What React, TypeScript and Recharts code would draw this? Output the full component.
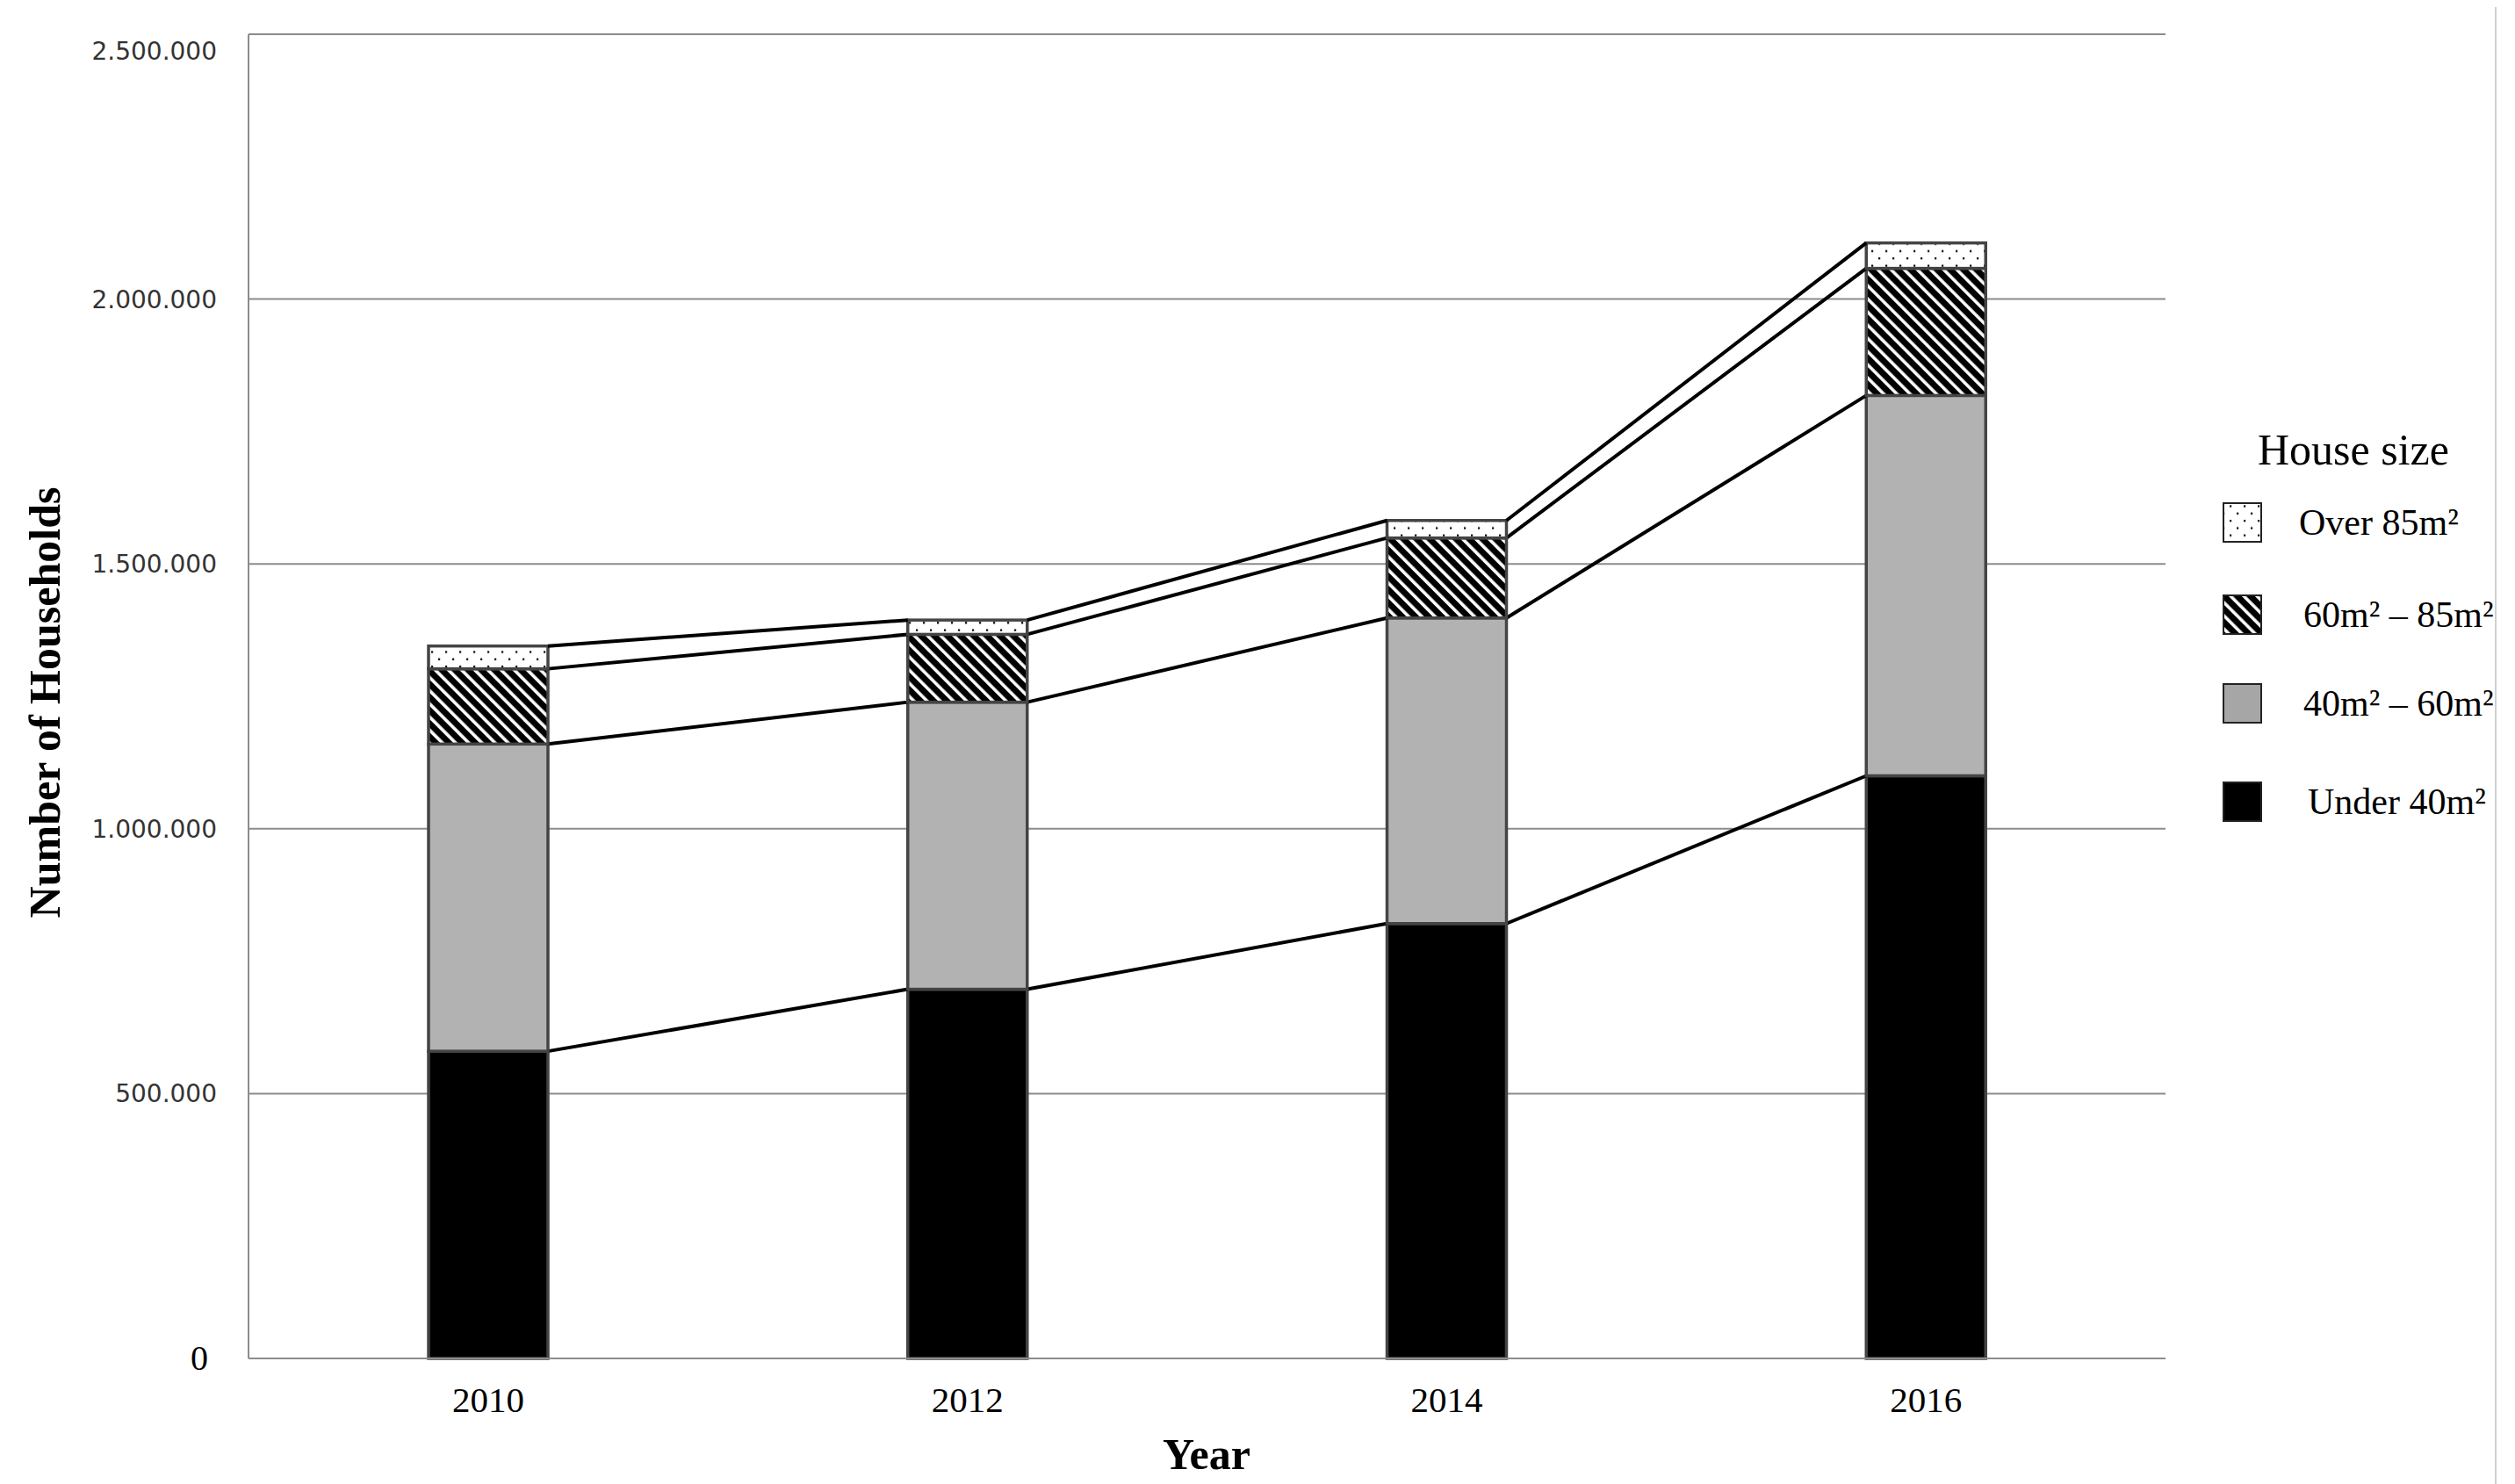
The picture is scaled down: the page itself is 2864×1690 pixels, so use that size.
import React from 'react';
import { BarChart, Bar, XAxis, YAxis, CartesianGrid, Customized } from 'recharts';

const years = ['2010', '2012', '2014', '2016'];
const under40 = [580000, 697000, 821000, 1100000];
const m40to60 = [580000, 542000, 577000, 718000];
const m60to85 = [142000, 128000, 151000, 240000];
const over85 = [43000, 27000, 33000, 48000];
const yTicks = [0, 500000, 1000000, 1500000, 2000000, 2500000];

const seriesKeys = ['under40', 'm40to60', 'm60to85', 'over85'];
const seriesNames: Record<string, string> = {
  under40: 'Under 40m²',
  m40to60: '40m² – 60m²',
  m60to85: '60m² – 85m²',
  over85: 'Over 85m²',
};
const legendOrder = ['over85', 'm60to85', 'm40to60', 'under40'];

const data = years.map((year, i) => ({
  year,
  under40: under40[i],
  m40to60: m40to60[i],
  m60to85: m60to85[i],
  over85: over85[i],
}));

const SERIF = "'Liberation Serif', 'Times New Roman', serif";
const SANS = "'DejaVu Sans', sans-serif";
const GRID = '#8c8c8c';
const BAR_STROKE = '#444444';

const fills: Record<string, string> = {
  under40: '#000000',
  m40to60: '#b2b2b2',
  m60to85: 'url(#pStripes)',
  over85: 'url(#pDots)',
};
const legendFills: Record<string, string> = {
  under40: '#000000',
  m40to60: '#a6a6a6',
  m60to85: 'url(#pStripes)',
  over85: 'url(#pDots)',
};

const edges: Record<string, { x: number; y: number }[]> = {};

const makeShape = (key: string) => (props: any) => {
  const { x, y, width, height, payload } = props;
  const i = years.indexOf(payload?.year);
  if (!edges[key]) edges[key] = [];
  const prev = i > 0 ? edges[key][i - 1] : undefined;
  edges[key][i] = { x: x + width, y };
  return (
    <g>
      <rect x={x} y={y} width={width} height={height} fill={fills[key]} stroke={BAR_STROKE} strokeWidth={3.5} />
      {prev && <line x1={prev.x} y1={prev.y} x2={x} y2={y} stroke="#000" strokeWidth={4} />}
    </g>
  );
};

const fmt = (v: number) => v.toString().replace(/\B(?=(\d{3})+(?!\d))/g, '.');

const YTick = (props: any) => {
  const { x, y, payload } = props;
  const v = payload.value;
  if (v === 0) {
    return (
      <text x={x - 10} y={y + 13} textAnchor="end" fontFamily={SERIF} fontSize={40} fill="#000">
        0
      </text>
    );
  }
  const dy = v === yTicks[yTicks.length - 1] ? 29 : 10;
  return (
    <text x={x} y={y + dy} textAnchor="end" fontFamily={SANS} fontSize={28} fill="#333">
      {fmt(v)}
    </text>
  );
};

const XTick = (props: any) => {
  const { x, y, payload } = props;
  return (
    <text x={x} y={y + 61} textAnchor="middle" fontFamily={SERIF} fontSize={41} fill="#000">
      {payload.value}
    </text>
  );
};

const legendY: Record<string, number> = { over85: 587, m60to85: 692, m40to60: 793, under40: 905 };
const legendTextX: Record<string, number> = { over85: 2610, m60to85: 2615, m40to60: 2615, under40: 2620 };

const Extras = () => (
  <g>
    <text x={43} y={792} transform="rotate(-90 43 792)" textAnchor="middle" dominantBaseline="central"
      fontFamily={SERIF} fontWeight="bold" fontSize={50} fill="#000">
      Number of Households
    </text>
    <text x={1366} y={1665} textAnchor="middle" fontFamily={SERIF} fontWeight="bold" fontSize={50} fill="#000">
      Year
    </text>
    <text x={2672} y={521} textAnchor="middle" fontFamily={SERIF} fontSize={50} fill="#000">
      House size
    </text>
    {legendOrder.map((k) => (
      <g key={k}>
        <rect x={2524} y={legendY[k] - 22} width={43} height={44} fill={legendFills[k]} stroke="#222" strokeWidth={2} />
        <text x={legendTextX[k]} y={legendY[k] + 14} fontFamily={SERIF} fontSize={42} fill="#000">
          {seriesNames[k]}
        </text>
      </g>
    ))}
    <line x1={2834} y1={0} x2={2834} y2={1682} stroke="#d0d0d0" strokeWidth={2} />
  </g>
);

export default function App() {
  return (
    <div style={{ position: 'relative', width: 2848, height: 1682 }}>
      <svg width={0} height={0} style={{ position: 'absolute' }}>
        <defs>
          <pattern id="pStripes" patternUnits="userSpaceOnUse" width={10.6} height={10.6} patternTransform="rotate(-45)">
            <rect width={10.6} height={10.6} fill="#000" />
            <rect x={0} y={0} width={3.6} height={10.6} fill="#fff" />
          </pattern>
          <pattern id="pDots" patternUnits="userSpaceOnUse" width={16} height={16.6}>
            <rect width={16} height={16.6} fill="#fff" />
            <rect x={3} y={3} width={2.2} height={2.2} fill="#000" />
            <rect x={11} y={11.3} width={2.2} height={2.2} fill="#000" />
          </pattern>
        </defs>
      </svg>
      <BarChart
        width={2848}
        height={1682}
        data={data}
        margin={{ top: 31, right: 390, bottom: 83, left: 0 }}
      >
        <CartesianGrid vertical={false} stroke={GRID} strokeWidth={2} />
        <XAxis
          dataKey="year"
          height={60}
          axisLine={{ stroke: GRID, strokeWidth: 2 }}
          tickLine={false}
          tickSize={0}
          tickMargin={0}
          tick={<XTick />}
          interval={0}
        />
        <YAxis
          width={275}
          domain={[0, 2500000]}
          ticks={yTicks}
          interval={0}
          axisLine={{ stroke: GRID, strokeWidth: 2 }}
          tickLine={false}
          tickSize={0}
          tickMargin={36}
          tick={<YTick />}
        />
        {seriesKeys.map((k) => (
          <Bar
            key={k}
            dataKey={k}
            stackId="a"
            barSize={136}
            isAnimationActive={false}
            shape={makeShape(k)}
          />
        ))}
        <Customized component={Extras} />
      </BarChart>
    </div>
  );
}
